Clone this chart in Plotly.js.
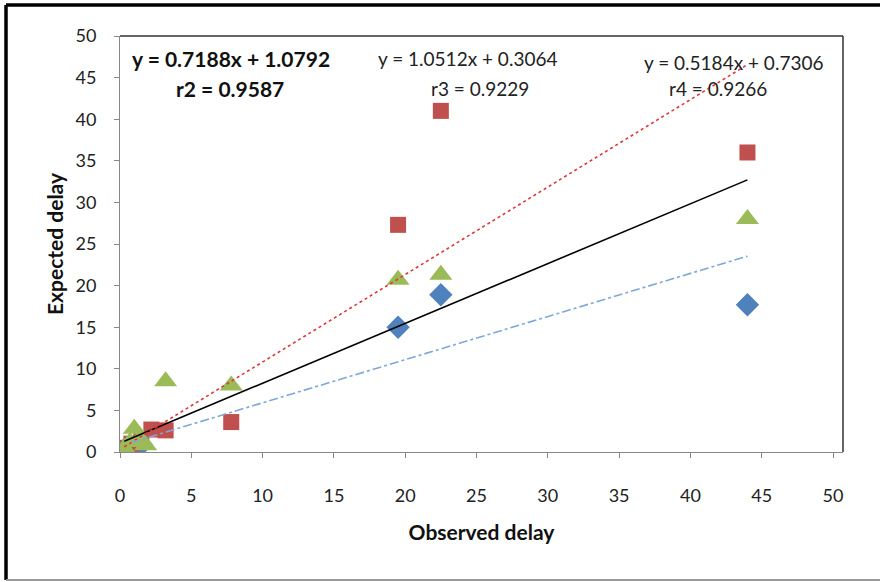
<!DOCTYPE html>
<html><head><meta charset="utf-8">
<script src="https://cdn.plot.ly/plotly-3.0.1.min.js"></script>
<style>body{margin:0;background:#fff}#c{width:880px;height:582px}</style>
</head><body><div id="c"></div>
<script>
// Data
const blueX = [0.3, 0.6, 1.0, 1.5, 19.5, 22.5, 44];
const blueY = [0.3, 0.5, 0.7, 0.9, 15.0, 18.9, 17.7];
const redX = [0.3, 0.8, 1.5, 2.2, 3.2, 7.8, 19.5, 22.5, 44];
const redY = [0.5, 1.0, 1.3, 2.7, 2.6, 3.6, 27.3, 41.0, 36.0];
const greenX = [0.3, 0.7, 1.0, 1.4, 1.8, 3.2, 7.8, 19.5, 22.5, 44];
const greenY = [0.5, 1.2, 2.8, 1.6, 0.8, 8.5, 8.0, 20.7, 21.3, 28.0];
const fitSlope = [0.7188, 1.0512, 0.5184];
const fitIntercept = [1.0792, 0.3064, 0.7306];
const fitX = [[0.3, 44], [0.3, 44], [0.8, 44]];
const xTicks = [0, 5, 10, 15, 20, 25, 30, 35, 40, 45, 50];
const yTicks = [0, 5, 10, 15, 20, 25, 30, 35, 40, 45, 50];

const fitColors = ['#000000', '#E03838', '#7FA8D8'];
const fitDash = ['solid', 'dot', 'dashdot'];
const lines = fitSlope.map((m, i) => ({
  x: fitX[i], y: fitX[i].map(v => m * v + fitIntercept[i]),
  mode: 'lines', type: 'scatter', hoverinfo: 'skip',
  line: {color: fitColors[i], width: 1.6, dash: fitDash[i]}
}));

const traces = [
  {x: blueX, y: blueY, mode: 'markers', type: 'scatter',
   marker: {symbol: 'diamond', size: 18, color: '#4F81BD'}},
  {x: redX, y: redY, mode: 'markers', type: 'scatter',
   marker: {symbol: 'square', size: 16, color: '#C0504D'}},
  {x: greenX, y: greenY, mode: 'markers', type: 'scatter',
   marker: {symbol: 'triangle-up', size: 20, color: '#9BBB59'}},
  ...lines
];

const L = 120, R = 843, T = 36, B = 452;
const px = v => (v - L) / (R - L);
const py = v => (B - v) / (B - T);
const font = 'Lato, "Open Sans", sans-serif';
const ann = (x, y, text, bold) => ({xref: 'paper', yref: 'paper', x: px(x), y: py(y),
  xanchor: 'center', yanchor: 'middle', text: bold ? '<b>' + text + '</b>' : text,
  showarrow: false, font: {size: bold ? 21 : 19, color: bold ? '#111' : '#222'}});

const layout = {
  width: 880, height: 582,
  margin: {l: L, r: 880 - R, t: T, b: 582 - B},
  showlegend: false,
  paper_bgcolor: '#fff', plot_bgcolor: '#fff',
  font: {family: font, size: 18, color: '#222'},
  xaxis: {
    range: [0, 50 * (R - L) / 713], tickvals: xTicks, ticktext: xTicks.map(String),
    showgrid: false, zeroline: false, showline: true, linecolor: '#888', linewidth: 1,
    ticks: 'outside', ticklen: 5, tickcolor: '#888', ticklabelstandoff: 22,
    title: {text: '<b>Observed delay</b>', font: {size: 21, family: font, color: '#111'}, standoff: 20}
  },
  yaxis: {
    range: [0, 50], tickvals: yTicks, ticktext: yTicks.map(String),
    showgrid: false, zeroline: false, showline: true, linecolor: '#888', linewidth: 1,
    ticks: 'outside', ticklen: 5, tickcolor: '#888', ticklabelstandoff: 14,
    title: {text: '<b>Expected delay</b>', font: {size: 21, family: font, color: '#111'}, standoff: 6}
  },
  shapes: [
    {type: 'line', xref: 'paper', yref: 'paper', x0: 0, x1: 1, y0: 1, y1: 1, line: {color: '#333', width: 1.5}},
    {type: 'line', xref: 'paper', yref: 'paper', x0: 1, x1: 1, y0: 0, y1: 1, line: {color: '#333', width: 1.5}},
    {type: 'line', xref: 'paper', yref: 'paper', x0: px(6), x1: px(880), y0: py(5), y1: py(5), line: {color: '#000', width: 3.5}},
    {type: 'line', xref: 'paper', yref: 'paper', x0: px(6), x1: px(6), y0: py(5), y1: py(580), line: {color: '#000', width: 3.5}},
    {type: 'line', xref: 'paper', yref: 'paper', x0: px(6), x1: px(880), y0: py(580), y1: py(580), line: {color: '#999', width: 2}}
  ],
  annotations: [
    ann(231, 58, 'y = 0.7188x + 1.0792', true),
    ann(230, 88, 'r2 = 0.9587', true),
    ann(467, 58, 'y = 1.0512x + 0.3064', false),
    ann(480, 88, 'r3 = 0.9229', false),
    ann(733, 62, 'y = 0.5184x + 0.7306', false),
    ann(718, 88, 'r4 = 0.9266', false)
  ]
};
Plotly.newPlot('c', traces, layout, {displayModeBar: false, staticPlot: true});
</script></body></html>
